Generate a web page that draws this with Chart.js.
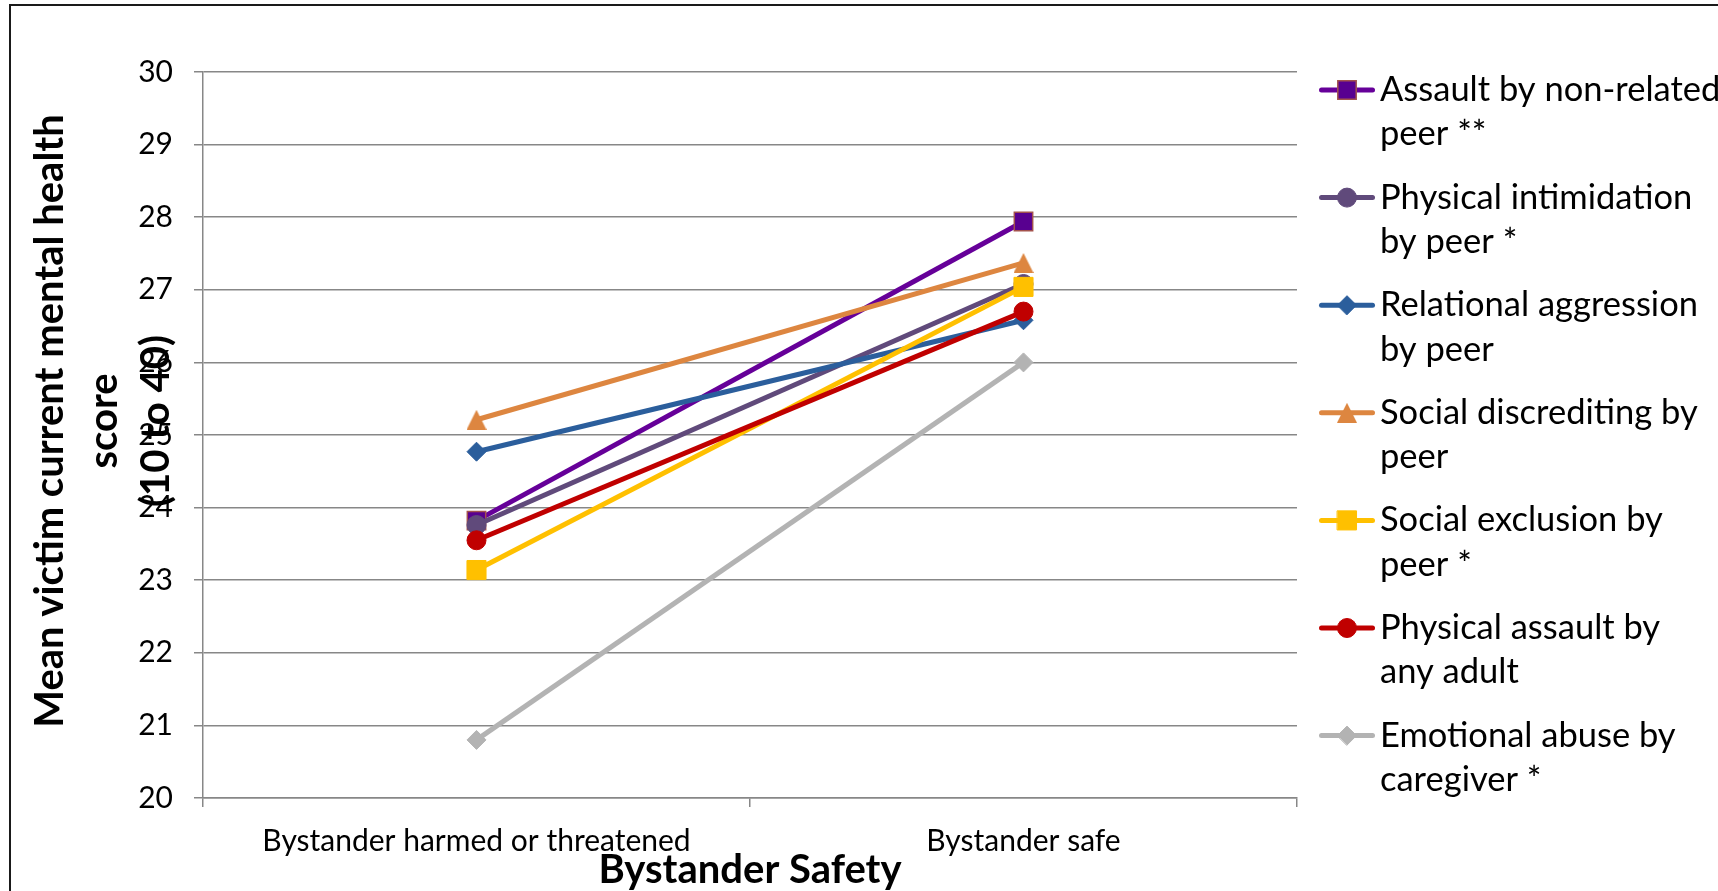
<!DOCTYPE html>
<html>
<head>
<meta charset="utf-8">
<title>Bystander Safety</title>
<script src="https://cdn.jsdelivr.net/npm/chart.js@4.4.1/dist/chart.umd.min.js"></script>
<style>
  html, body { margin: 0; padding: 0; background: #ffffff; overflow: hidden; }
  #wrap { position: relative; width: 1718px; height: 891px; }
  canvas { display: block; }
</style>
</head>
<body>
<div id="wrap"><canvas id="chart" width="1718" height="891"></canvas></div>
<script>
// ---- data ----
const categories = ['Bystander harmed or threatened', 'Bystander safe'];
const yTickValues = [20, 21, 22, 23, 24, 25, 26, 27, 28, 29, 30];

const seriesNames = [
  'Assault by non-related peer **',
  'Physical intimidation by peer *',
  'Relational aggression by peer',
  'Social discrediting by peer',
  'Social exclusion by peer *',
  'Physical assault by any adult',
  'Emotional abuse by caregiver *'
];
const legendLines = [
  ['Assault by non-related', 'peer **'],
  ['Physical intimidation', 'by peer *'],
  ['Relational aggression', 'by peer'],
  ['Social discrediting by', 'peer'],
  ['Social exclusion by', 'peer *'],
  ['Physical assault by', 'any adult'],
  ['Emotional abuse by', 'caregiver *']
];

const assaultByPeer        = [23.82, 27.94];
const intimidationByPeer   = [23.76, 27.08];
const relationalAggression = [24.77, 26.58];
const socialDiscrediting   = [25.21, 27.37];
const socialExclusion      = [23.14, 27.04];
const adultAssault         = [23.55, 26.70];
const emotionalAbuse       = [20.80, 26.00];

const yTitleLines = ['Mean victim current mental health', 'score', '(10 to 40)'];
const xTitle = 'Bystander Safety';

// ---- styling ----
const FONT = 'Lato, "Open Sans", "DejaVu Sans", sans-serif';
const TICK_SIZE = 30;
const LEGEND_SIZE = 34.5;
const TITLE_SIZE = 40;
const GRID = '#878787';
const LINE_WIDTH = 5;

function triangleMarker(w, h, color) {
  const c = document.createElement('canvas');
  c.width = w; c.height = h;
  const g = c.getContext('2d');
  g.fillStyle = color;
  g.beginPath();
  g.moveTo(w / 2, 0);
  g.lineTo(w, h);
  g.lineTo(0, h);
  g.closePath();
  g.fill();
  return c;
}

const seriesStyles = [
  { line: '#660099', fill: '#580090', edge: '#a3524d', style: 'rect',    radius: 13,  edgeWidth: 1.5 },
  { line: '#604a7b', fill: '#604a7b', edge: '#604a7b', style: 'circle',  radius: 9.5, edgeWidth: 1 },
  { line: '#2b5e9c', fill: '#2b5e9c', edge: '#2b5e9c', style: 'rectRot', radius: 9.5, edgeWidth: 1 },
  { line: '#dd8640', fill: '#dd8640', edge: '#dd8640', style: triangleMarker(20, 20, '#dd8640'), radius: 10, edgeWidth: 0 },
  { line: '#ffc000', fill: '#ffc000', edge: '#ffc000', style: 'rect',    radius: 13.5, edgeWidth: 1 },
  { line: '#c00000', fill: '#c00000', edge: '#c00000', style: 'circle',  radius: 9.5, edgeWidth: 1 },
  { line: '#b3b3b3', fill: '#b3b3b3', edge: '#b3b3b3', style: 'rectRot', radius: 9.5, edgeWidth: 1 }
];

const seriesValues = [assaultByPeer, intimidationByPeer, relationalAggression,
  socialDiscrediting, socialExclusion, adultAssault, emotionalAbuse];

const datasets = seriesValues.map((values, i) => {
  const s = seriesStyles[i];
  return {
    label: seriesNames[i],
    data: values,
    borderColor: s.line,
    backgroundColor: s.fill,
    borderWidth: LINE_WIDTH,
    pointStyle: s.style,
    pointRadius: s.radius,
    pointBackgroundColor: s.fill,
    pointBorderColor: s.edge,
    pointBorderWidth: s.edgeWidth,
    pointHoverRadius: s.radius,
    tension: 0,
    fill: false,
    // later series are painted over earlier ones
    order: seriesValues.length - i
  };
});

// ---- marker drawing for the legend ----
function drawMarker(ctx, s, x, y) {
  ctx.save();
  ctx.fillStyle = s.fill;
  ctx.strokeStyle = s.edge;
  ctx.lineWidth = s.edgeWidth;
  const r = s.radius;
  if (typeof s.style === 'object') {
    ctx.drawImage(s.style, x - s.style.width / 2, y - s.style.height / 2);
    ctx.restore();
    return;
  }
  ctx.beginPath();
  if (s.style === 'rect') {
    const h = Math.SQRT1_2 * r;
    ctx.rect(x - h, y - h, 2 * h, 2 * h);
  } else if (s.style === 'circle') {
    ctx.arc(x, y, r, 0, Math.PI * 2);
  } else if (s.style === 'rectRot') {
    ctx.moveTo(x - r, y); ctx.lineTo(x, y - r); ctx.lineTo(x + r, y); ctx.lineTo(x, y + r);
    ctx.closePath();
  }
  ctx.fill();
  if (s.edgeWidth > 0) ctx.stroke();
  ctx.restore();
}

// ---- frame, axis titles and legend ----
const decorations = {
  id: 'decorations',
  afterDraw(chart) {
    const ctx = chart.ctx;
    const area = chart.chartArea;
    ctx.save();

    // outer frame
    ctx.strokeStyle = '#1a1a1a';
    ctx.lineWidth = 2;
    ctx.strokeRect(10, 5, 2400, 2400);

    // y axis title (rotated, three lines)
    ctx.fillStyle = '#000';
    ctx.font = 'bold ' + TITLE_SIZE + 'px ' + FONT;
    ctx.textAlign = 'center';
    ctx.textBaseline = 'middle';
    const yMid = 421;
    const lineXs = [50, 104, 156];
    yTitleLines.forEach((t, i) => {
      ctx.save();
      ctx.translate(lineXs[i], yMid);
      ctx.rotate(-Math.PI / 2);
      ctx.fillText(t, 0, 0);
      ctx.restore();
    });

    // x axis title
    ctx.fillText(xTitle, (area.left + area.right) / 2, 870);

    // legend
    const lx0 = 1321.5, lx1 = 1372.5, tx = 1380;
    const top = 90, step = 107.6, lineGap = 44.3;
    ctx.font = LEGEND_SIZE + 'px ' + FONT;
    ctx.textAlign = 'left';
    ctx.textBaseline = 'alphabetic';
    chart.data.datasets.forEach((ds, i) => {
      const y = top + step * i;
      const s = seriesStyles[i];
      ctx.strokeStyle = ds.borderColor;
      ctx.lineWidth = ds.borderWidth;
      ctx.lineCap = 'round';
      ctx.beginPath();
      ctx.moveTo(lx0, y);
      ctx.lineTo(lx1, y);
      ctx.stroke();
      drawMarker(ctx, s, (lx0 + lx1) / 2, y);
      ctx.fillStyle = '#000';
      legendLines[i].forEach((t, k) => ctx.fillText(t, tx, y + 11 + k * lineGap));
    });
    ctx.restore();
  }
};

new Chart(document.getElementById('chart'), {
  type: 'line',
  data: { labels: categories, datasets },
  options: {
    responsive: false,
    devicePixelRatio: 1,
    animation: false,
    events: [],
    layout: { padding: { left: 0, top: 72, right: 421, bottom: 0 } },
    plugins: { legend: { display: false }, tooltip: { enabled: false }, title: { display: false } },
    scales: {
      x: {
        type: 'category',
        offset: true,
        grid: { offset: true, drawOnChartArea: false, drawTicks: true, tickLength: 9, color: GRID, lineWidth: 1.5 },
        border: { display: true, color: GRID, width: 1.5 },
        ticks: { color: '#000', font: { family: FONT, size: TICK_SIZE }, padding: 16, maxRotation: 0, autoSkip: false },
        afterFit: (s) => { s.height = 93; }
      },
      y: {
        min: 20,
        max: 30,
        afterBuildTicks: (s) => { s.ticks = yTickValues.map(v => ({ value: v })); },
        grid: { color: GRID, lineWidth: 1.5, drawTicks: true, tickLength: 9 },
        border: { display: true, color: GRID, width: 1.5 },
        ticks: { color: '#000', font: { family: FONT, size: TICK_SIZE }, padding: 21 },
        afterFit: (s) => { s.width = 203; }
      }
    }
  },
  plugins: [decorations]
});
</script>
</body>
</html>
